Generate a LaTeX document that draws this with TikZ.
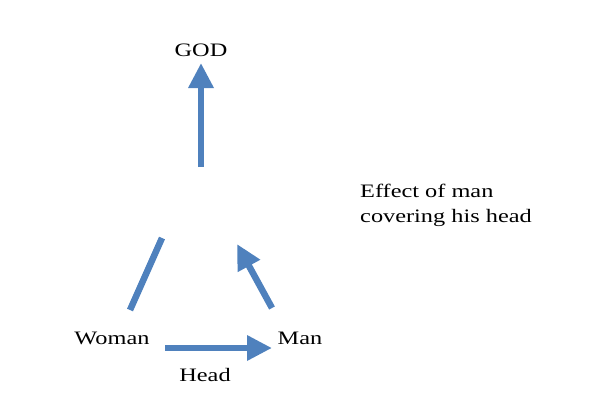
\documentclass[tikz,border=0pt]{standalone}
\usepackage{fontspec}
\setmainfont{Liberation Serif}[FakeStretch=1.28]
\usetikzlibrary{arrows.meta}
\definecolor{ab}{RGB}{79,129,189}
\begin{document}
\begin{tikzpicture}[x=1pt,y=1pt,
  lbl/.style={font=\fontsize{19}{25}\selectfont,inner sep=0pt},
  barrow/.style={draw=ab,line width=6.5pt,-{Triangle[width=24pt,length=25pt]}},
  bline/.style={draw=ab,line width=6.5pt}]
\useasboundingbox (0,0) rectangle (612,416);
\node[lbl] (god) at (201,366) {GOD};
\node[lbl] (woman) at (112,78) {Woman};
\node[lbl] (man) at (300,78) {Man};
\node[lbl] (head) at (205,41) {Head};
\node[lbl,align=left,anchor=north west] (eff) at (360,232) {Effect of man\\covering his head};
\coordinate (gs) at (201,249);
\coordinate (ge) at (201,353);
\coordinate (hs) at (165,68);
\coordinate (he) at (272,68);
\coordinate (ms) at (272,108);
\coordinate (me) at (237,172);
\coordinate (ws) at (130,106);
\coordinate (we) at (162,178);
\draw[barrow] (gs) -- (ge);
\draw[barrow] (hs) -- (he);
\draw[barrow] (ms) -- (me);
\draw[bline] (ws) -- (we);
\end{tikzpicture}
\end{document}
